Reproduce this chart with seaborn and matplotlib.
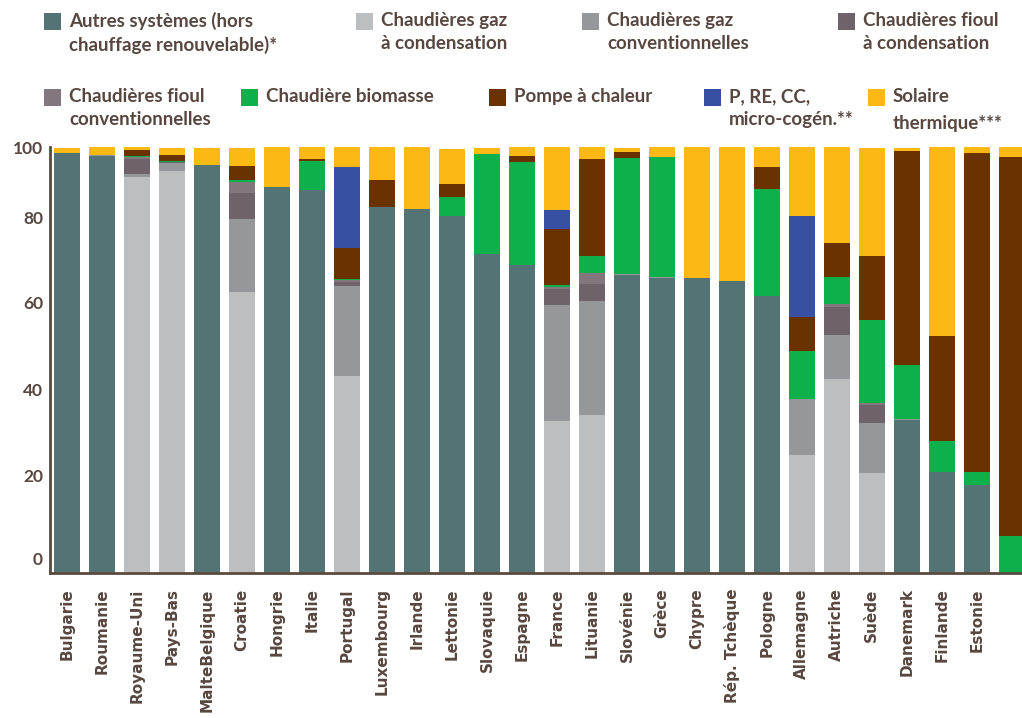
import pandas as pd
import matplotlib.pyplot as plt
import seaborn as sns
from matplotlib.patches import Rectangle

# ---------- Data (share of installed heating systems, %) ----------
pays = ["Bulgarie", "Roumanie", "Royaume-Uni", "Pays-Bas", "MalteBelgique", "Croatie",
        "Hongrie", "Italie", "Portugal", "Luxembourg", "Irlande", "Lettonie", "Slovaquie",
        "Espagne", "France", "Lituanie", "Slovénie", "Grèce", "Chypre", "Rép. Tchèque",
        "Pologne", "Allemagne", "Autriche", "Suède", "Danemark", "Finlande", "Estonie", ""]

autres = [98.5, 98.0, 0, 0, 95.7, 0, 90.5, 89.9, 0, 85.8, 85.4, 83.8, 74.9, 72.2,
          0, 0, 70.0, 69.3, 69.2, 68.5, 65.1, 0, 0, 0, 36.0, 23.7, 20.6, 0]
gaz_cond = [0, 0, 92.9, 94.3, 0, 65.9, 0, 0, 46.2, 0, 0, 0, 0, 0,
            35.7, 37.1, 0, 0, 0, 0, 0, 27.7, 45.5, 23.5, 0, 0, 0, 0]
gaz_conv = [0, 0.2, 0.7, 1.9, 0, 17.1, 0, 0, 21.1, 0.2, 0, 0, 0, 0,
            27.2, 26.7, 0.15, 0.15, 0, 0, 0, 13.1, 10.3, 11.7, 0.2, 0, 0, 0]
fioul_cond = [0, 0, 3.5, 0.2, 0, 6.1, 0, 0, 0.9, 0, 0, 0, 0, 0,
              3.8, 4.0, 0, 0, 0, 0, 0, 0, 6.6, 4.2, 0, 0, 0, 0]
fioul_conv = [0, 0, 0.5, 0, 0, 2.6, 0, 0, 0.5, 0, 0, 0, 0, 0,
              0.5, 2.6, 0, 0, 0, 0, 0, 0, 0.7, 0.5, 0, 0, 0, 0]
biomasse = [0, 0, 0.2, 0.2, 0, 0.5, 0, 6.7, 0.3, 0, 0, 4.4, 23.4, 24.2,
            0.3, 4.0, 27.2, 28.1, 0, 0, 25.0, 11.3, 6.3, 19.5, 12.7, 7.3, 3.0, 8.7]
pac = [0, 0, 1.6, 1.6, 0, 3.3, 0, 0.5, 7.4, 6.3, 0, 3.0, 0, 1.4,
       13.3, 22.8, 1.4, 0, 0, 0, 5.2, 8.0, 8.0, 15.0, 50.2, 24.6, 75.1, 88.9]
p_re_cc = [0, 0, 0, 0, 0, 0, 0, 0, 19.0, 0, 0, 0, 0, 0,
           4.5, 0, 0, 0, 0, 0, 0, 23.7, 0, 0, 0, 0, 0, 0]
solaire = [1.3, 1.8, 0.5, 1.6, 4.0, 4.2, 9.5, 2.9, 4.5, 7.6, 14.6, 8.4, 1.4, 2.2,
           14.9, 2.9, 0.9, 2.4, 30.8, 31.5, 4.7, 16.3, 22.6, 25.3, 0.7, 44.4, 1.3, 2.4]

series = ["autres", "gaz_cond", "gaz_conv", "fioul_cond", "fioul_conv",
          "biomasse", "pac", "p_re_cc", "solaire"]
labels = ["Autres systèmes (hors\nchauffage renouvelable)*", "Chaudières gaz\nà condensation",
          "Chaudières gaz\nconventionnelles", "Chaudières fioul\nà condensation",
          "Chaudières fioul\nconventionnelles", "Chaudière biomasse", "Pompe à chaleur",
          "P, RE, CC,\nmicro-cogén.**", "Solaire\nthermique***"]
colors = ["#547374", "#bdbec0", "#96979a", "#6e636b", "#83777f",
          "#0db04b", "#6a3200", "#3850a3", "#fcb916"]

df = pd.DataFrame({"pays": pays, "autres": autres, "gaz_cond": gaz_cond, "gaz_conv": gaz_conv,
                   "fioul_cond": fioul_cond, "fioul_conv": fioul_conv, "biomasse": biomasse,
                   "pac": pac, "p_re_cc": p_re_cc, "solaire": solaire})
cum = df[series].cumsum(axis=1)
cum["pays"] = df["pays"]

text_col = "#574740"
W, H = 1022, 718

sns.set_theme(style="white")
fig = plt.figure(figsize=(W / 100, H / 100), dpi=100)
ax = fig.add_axes([50 / W, (H - 573) / H, (W - 50) / W, (573 - 147) / H])

# stacked bars: draw cumulative totals from top layer down
for s, c in reversed(list(zip(series, colors))):
    sns.barplot(data=cum, x="pays", y=s, order=pays, color=c, saturation=1,
                width=0.74, errorbar=None, linewidth=0, ax=ax)

ax.set_xlim(-0.486, 27.29)
ax.set_ylim(0, 100)
ax.set_xlabel("")
ax.set_ylabel("")
for side in ["top", "right"]:
    ax.spines[side].set_visible(False)
for side in ["left", "bottom"]:
    ax.spines[side].set_linewidth(2)
    ax.spines[side].set_color("#5b4a40")

ax.set_yticks([3.3, 23, 43, 63.5, 83.5, 100])
ax.set_yticklabels(["0", "20", "40", "60", "80", "100"])
ax.tick_params(axis="y", length=0, pad=5)
ax.tick_params(axis="x", length=0, pad=11)
for t in ax.get_yticklabels():
    t.set_fontfamily("Lato")
    t.set_fontweight("bold")
    t.set_fontsize(12.5)
    t.set_color(text_col)
for t in ax.get_xticklabels():
    t.set_rotation(90)
    t.set_fontfamily("DejaVu Sans")
    t.set_fontweight("bold")
    t.set_fontsize(11)
    t.set_color(text_col)
    t.set_va("top")

# ---------- Legend (manual, two rows) ----------
legend_pos = [(44, 13), (356, 13), (582, 13), (838, 13),
              (44, 89), (241, 89), (489, 89), (704, 89), (868, 89)]
for i, ((px, py), lab, c) in enumerate(zip(legend_pos, labels, colors)):
    fig.add_artist(Rectangle((px / W, 1 - (py + 17) / H), 17 / W, 17 / H,
                             transform=fig.transFigure, color=c, lw=0))
    fig.text((px + 25) / W, 1 - (py - 1) / H, lab, ha="left", va="top",
             family="Lato", weight="bold", fontsize=13.5, color=text_col,
             linespacing=1.75 if i == 8 else 1.4)

fig.savefig("out.png", dpi=100)
